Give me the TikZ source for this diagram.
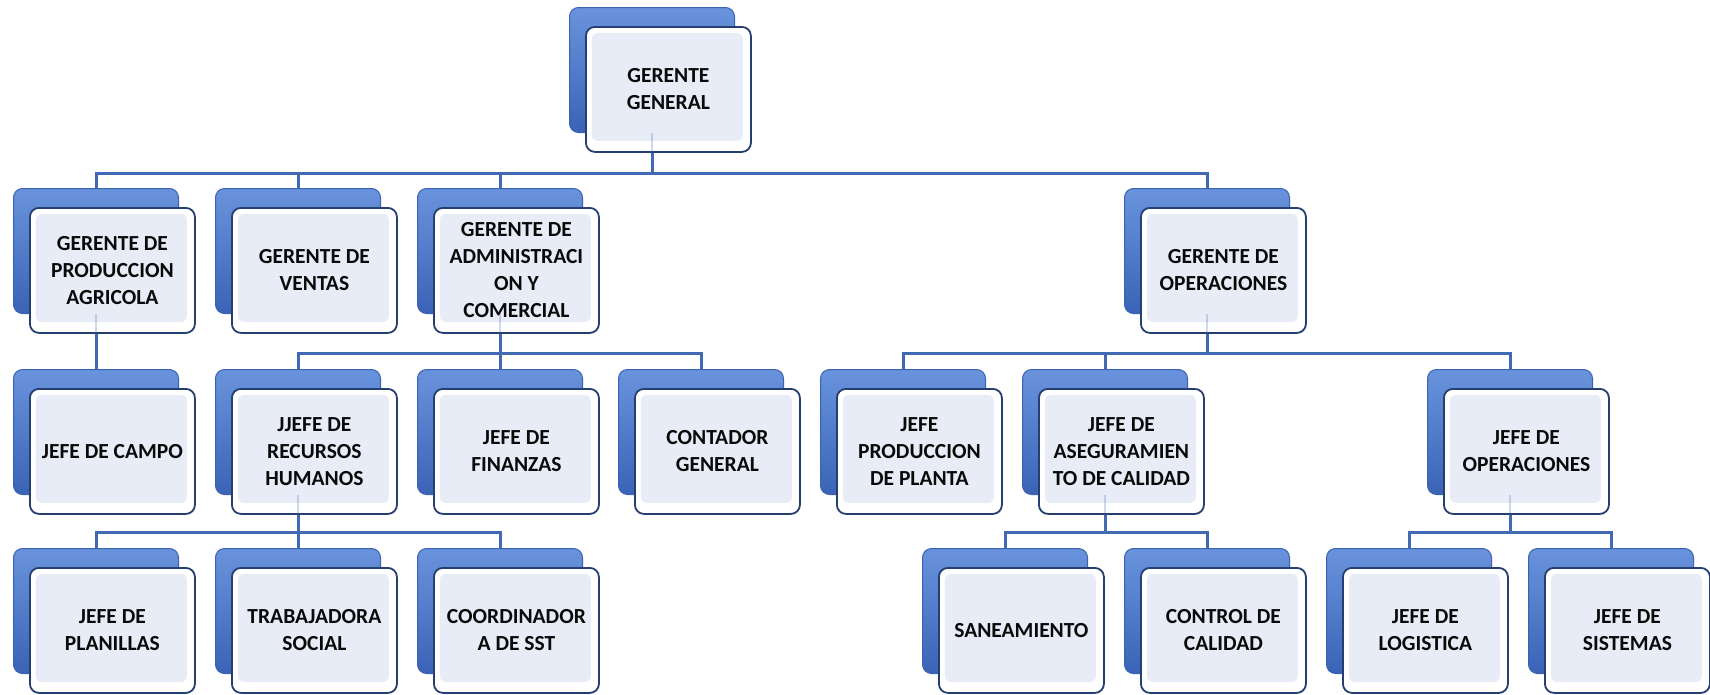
\documentclass[tikz,border=0pt]{standalone}
\usepackage{fontspec}
\setmainfont{Carlito}
\usetikzlibrary{backgrounds}
\definecolor{backtop}{HTML}{6A93DD}
\definecolor{backmid}{HTML}{4A76CA}
\definecolor{backbot}{HTML}{3A63B6}
\definecolor{backline}{HTML}{3A62B0}
\definecolor{frontline}{HTML}{243F70}
\definecolor{innerfill}{HTML}{E8ECF6}
\definecolor{lineblue}{HTML}{4169B4}
\definecolor{textcol}{HTML}{0A0A0A}
\tikzset{
  backbox/.style={rounded corners=9pt, minimum width=165pt, minimum height=125pt, inner sep=0pt, anchor=north west,
    top color=backtop, middle color=backmid, bottom color=backbot, draw=backline, line width=1pt},
  frontbox/.style={rounded corners=9pt, minimum width=165pt, minimum height=125pt, inner sep=0pt, anchor=north west,
    fill=white, draw=frontline, line width=1.8pt, align=center, text=textcol,
    font=\fontsize{21.5}{27}\selectfont\bfseries,
    path picture={\fill[innerfill, rounded corners=6pt] ([shift={(6,6)}]path picture bounding box.north west) rectangle ([shift={(-8,-11)}]path picture bounding box.south east);}},
  conn/.style={draw=lineblue, line width=3pt},
  faint/.style={draw=lineblue, line width=2.5pt, opacity=0.25}
}
\newcommand\orgunit[4]{%
  \node[backbox] (#1b) at (#2,#3) {};
  \node[frontbox] (#1) at (#2+16,#3+19) {#4};
}
\newcommand\orgconn[3]{%
  \draw[conn] (#1b.south) -- ++(0,#3) -| (#2b.north);
}
\newcommand\orgfaint[1]{%
  \draw[faint] (#1b.south) -- (#1b.south |- #1.south);
}
\begin{document}
\begin{tikzpicture}[x=1pt,y=-1pt]
\useasboundingbox (0,0) rectangle (1710,694);
% level 1
\orgunit{GG}{569}{7}{GERENTE\\GENERAL}
% level 2
\orgunit{GP}{13}{188}{GERENTE DE\\PRODUCCION\\AGRICOLA}
\orgunit{GV}{215}{188}{GERENTE DE\\VENTAS}
\orgunit{GA}{417}{188}{GERENTE DE\\ADMINISTRACI\\ON Y\\COMERCIAL}
\orgunit{GO}{1124}{188}{GERENTE DE\\OPERACIONES}
% level 3
\orgunit{JC}{13}{369}{JEFE DE CAMPO}
\orgunit{JR}{215}{369}{JJEFE DE\\RECURSOS\\HUMANOS}
\orgunit{JF}{417}{369}{JEFE DE\\FINANZAS}
\orgunit{CG}{618}{369}{CONTADOR\\GENERAL}
\orgunit{JP}{820}{369}{JEFE\\PRODUCCION\\DE PLANTA}
\orgunit{JA}{1022}{369}{JEFE DE\\ASEGURAMIEN\\TO DE CALIDAD}
\orgunit{JO}{1427}{369}{JEFE DE\\OPERACIONES}
% level 4
\orgunit{PL}{13}{548}{JEFE DE\\PLANILLAS}
\orgunit{TS}{215}{548}{TRABAJADORA\\SOCIAL}
\orgunit{CO}{417}{548}{COORDINADOR\\A DE SST}
\orgunit{SA}{922}{548}{SANEAMIENTO}
\orgunit{CC}{1124}{548}{CONTROL DE\\CALIDAD}
\orgunit{LO}{1326}{548}{JEFE DE\\LOGISTICA}
\orgunit{SI}{1528}{548}{JEFE DE\\SISTEMAS}
% connectors
\begin{scope}[on background layer]
\orgconn{GG}{GP}{40}
\orgconn{GG}{GV}{40}
\orgconn{GG}{GA}{40}
\orgconn{GG}{GO}{40}
\orgconn{GP}{JC}{39}
\orgconn{GA}{JR}{39}
\orgconn{GA}{JF}{39}
\orgconn{GA}{CG}{39}
\orgconn{GO}{JP}{39}
\orgconn{GO}{JA}{39}
\orgconn{GO}{JO}{39}
\orgconn{JR}{PL}{37}
\orgconn{JR}{TS}{37}
\orgconn{JR}{CO}{37}
\orgconn{JA}{SA}{37}
\orgconn{JA}{CC}{37}
\orgconn{JO}{LO}{37}
\orgconn{JO}{SI}{37}
\end{scope}
\orgfaint{GG}
\orgfaint{GP}
\orgfaint{GA}
\orgfaint{GO}
\orgfaint{JR}
\orgfaint{JA}
\orgfaint{JO}
\end{tikzpicture}
\end{document}
